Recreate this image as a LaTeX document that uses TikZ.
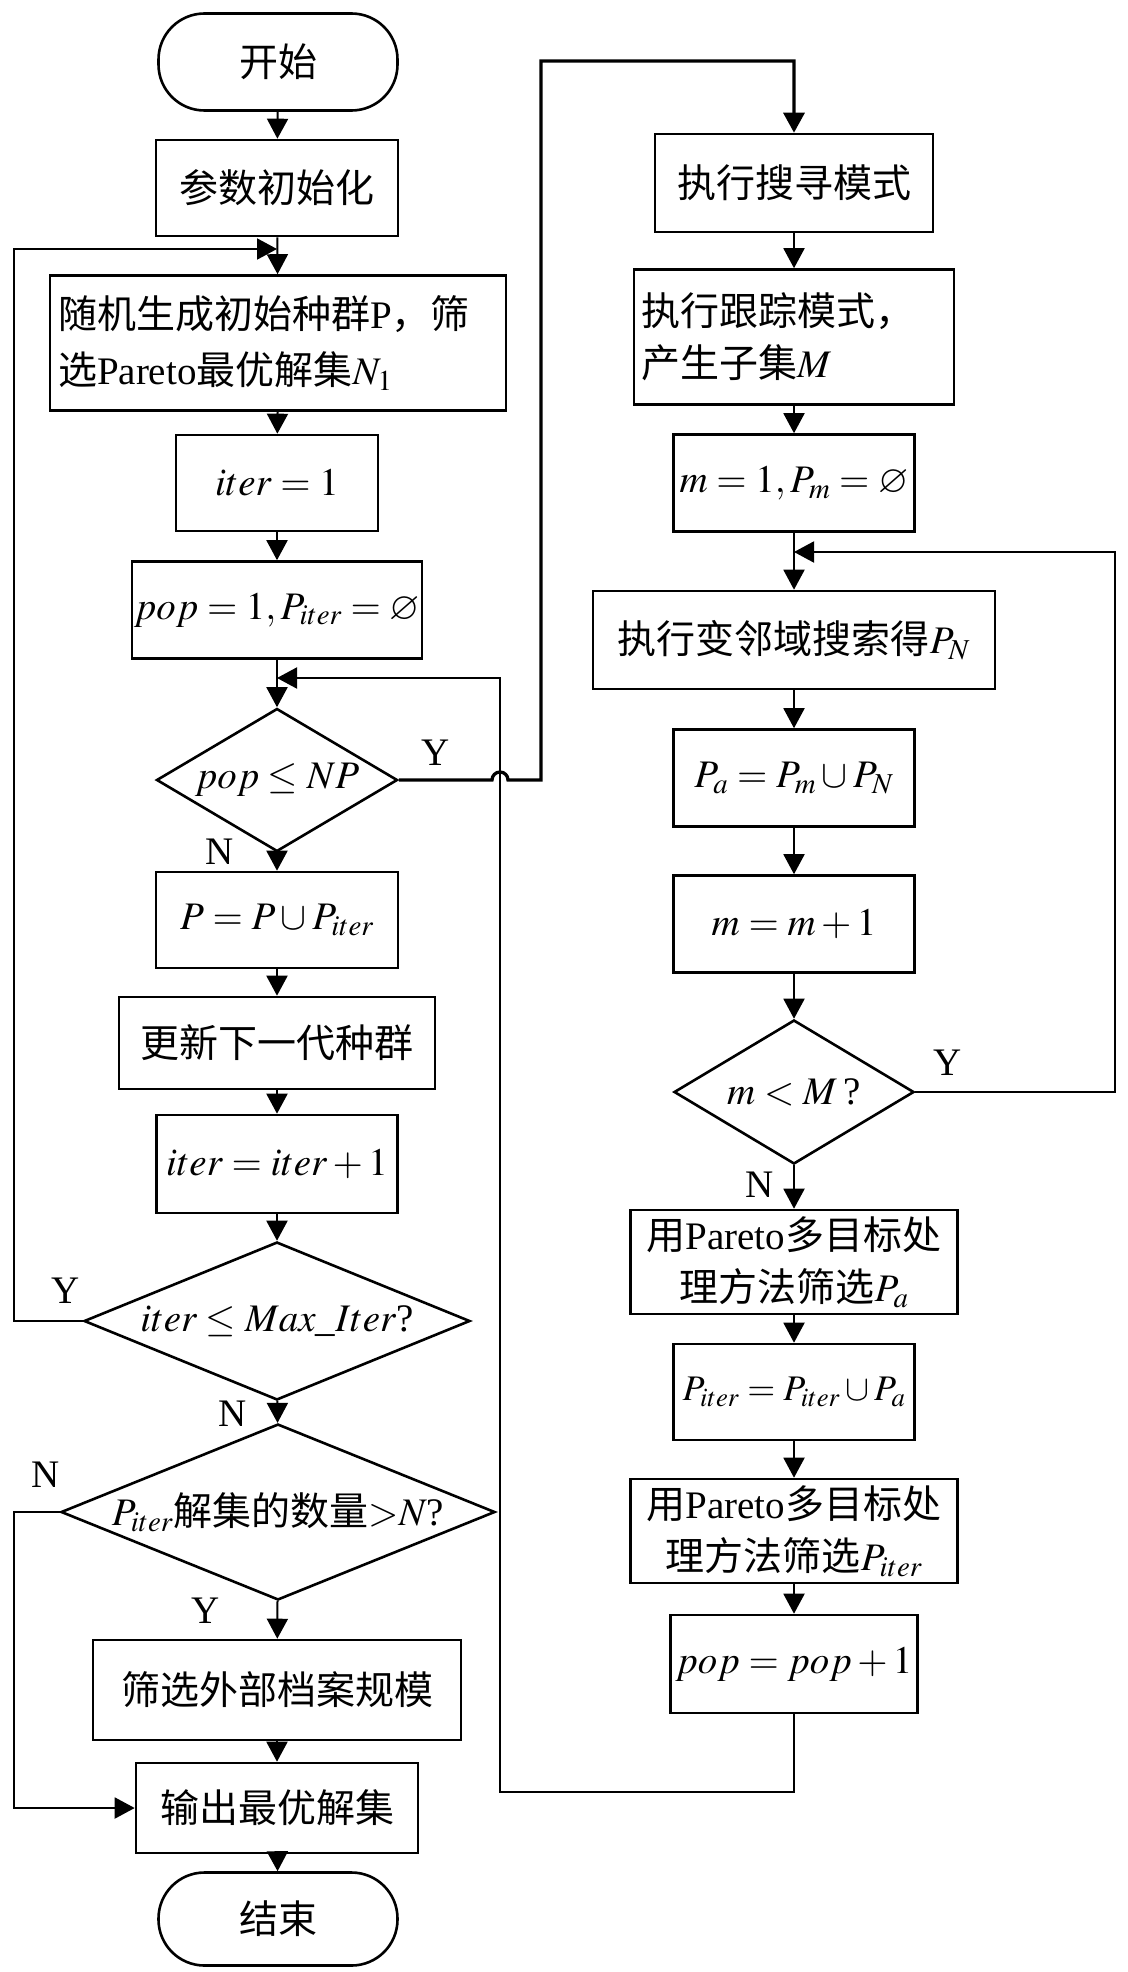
\documentclass[tikz,border=0pt]{standalone}
\usepackage{mathptmx}
\usepackage{amssymb}
\usepackage{fontspec}
\setmainfont{Liberation Serif}
\newfontfamily\zh{Noto Sans CJK SC}
\usetikzlibrary{shapes.geometric,arrows.meta}

\begin{document}
\begin{tikzpicture}[x=1pt,y=-1pt,
    font=\fontsize{39}{52}\selectfont,
    box/.style={draw,rectangle,line width=2.6pt,inner sep=5pt},
    term/.style={draw,rectangle,rounded corners=46pt,line width=2.6pt},
    decide/.style={draw,diamond,line width=2.6pt,inner sep=0pt},
    arr/.style={line width=2pt,-{Triangle[length=20pt,width=21pt]}},
    lbl/.style={inner sep=0pt}]
    \useasboundingbox (0,0) rectangle (1127,1972);
    % Left column
    \node[term,minimum width=239pt,minimum height=97pt] (start) at (278,62) {\zh 开始};
    \node[box,minimum width=242pt,minimum height=96pt] (init) at (277,188) {\zh 参数初始化};
    \node[box,minimum width=456pt,minimum height=135pt,text width=440pt,align=left] (rand) at (278,343)
        {{\zh 随机生成初始种群}P{\zh ，筛}\\[4pt]{\zh 选}Pareto{\zh 最优解集}$N_1$};
    \node[box,minimum width=202pt,minimum height=96pt] (it1) at (277,483) {$iter=1$};
    \node[box,minimum width=278pt,minimum height=97pt,inner xsep=2pt] (pop1) at (277,610) {$pop=1,P_{iter}=\varnothing$};
    \node[decide,aspect=1.69,minimum width=241pt,minimum height=143pt] (d1) at (277,780) {$pop\le NP$};
    \node[box,minimum width=242pt,minimum height=96pt] (uni) at (277,920) {$P=P\cup P_{iter}$};
    \node[box,minimum width=316pt,minimum height=92pt] (upd) at (277,1043) {\zh 更新下一代种群};
    \node[box,minimum width=241pt,minimum height=98pt] (it2) at (277,1164) {$iter=iter+1$};
    \node[decide,aspect=2.44,minimum width=386pt,minimum height=158pt] (d2) at (277,1321) {$iter\le Max\_Iter$?};
    \node[decide,aspect=2.47,minimum width=434pt,minimum height=176pt] (d3) at (278,1512) {$P_{iter}${\zh 解集的数量}${>}N$?};
    \node[box,minimum width=368pt,minimum height=100pt] (arch) at (277,1690) {\zh 筛选外部档案规模};
    \node[box,minimum width=282pt,minimum height=90pt] (out) at (277,1808) {\zh 输出最优解集};
    \node[term,minimum width=239pt,minimum height=93pt] (stop) at (278,1919) {\zh 结束};
    % Right column
    \node[box,minimum width=278pt,minimum height=98pt] (srch) at (794,183) {\zh 执行搜寻模式};
    \node[box,minimum width=320pt,minimum height=135pt,text width=306pt,align=left] (trk) at (794,337)
        {{\zh 执行跟踪模式，}\\{\zh 产生子集}$M$};
    \node[box,minimum width=241pt,minimum height=97pt] (m1) at (794,483) {$m=1,P_m=\varnothing$};
    \node[box,minimum width=402pt,minimum height=98pt] (vns) at (794,640) {{\zh 执行变邻域搜索得}$P_N$};
    \node[box,minimum width=241pt,minimum height=97pt] (pa) at (794,778) {$P_a=P_m\cup P_N$};
    \node[box,minimum width=241pt,minimum height=97pt] (mm) at (794,924) {$m=m+1$};
    \node[decide,aspect=1.67,minimum width=240pt,minimum height=144pt] (d4) at (794,1092) {$m<M$\,?};
    \node[box,minimum width=327pt,minimum height=104pt,align=center] (fa) at (794,1262)
        {{\zh 用}Pareto{\zh 多目标处}\\{\zh 理方法筛选}$P_a$};
    \node[box,minimum width=241pt,minimum height=96pt,inner xsep=2pt,font=\fontsize{36}{48}\selectfont] (pit) at (794,1392)
        {$P_{iter}=P_{iter}\cup P_a$};
    \node[box,minimum width=327pt,minimum height=104pt,align=center] (fit) at (794,1531)
        {{\zh 用}Pareto{\zh 多目标处}\\{\zh 理方法筛选}$P_{iter}$};
    \node[box,minimum width=241pt,minimum height=98pt] (pp) at (794,1664) {$pop=pop+1$};
    % Junctions and corners
    \coordinate (j1) at (277,249);
    \coordinate (j2) at (277,678);
    \coordinate (j4) at (794,552);
    \coordinate (c1) at (14,249);
    \coordinate (c2) at (14,1808);
    \coordinate (c3) at (541,61);
    \coordinate (c4) at (500,1792);
    \coordinate (c6) at (1115,552);
    \coordinate (h1) at (492,780);
    % Yes / No labels
    \node[lbl] at (436,753) {Y};
    \node[lbl] at (220,852) {N};
    \node[lbl] at (66,1291) {Y};
    \node[lbl] at (233,1414) {N};
    \node[lbl] at (46,1475) {N};
    \node[lbl] at (206,1611) {Y};
    \node[lbl] at (948,1063) {Y};
    \node[lbl] at (760,1185) {N};
    % Main flow
    \draw[arr] (start) -- (init);
    \draw[arr] (init) -- (rand);
    \draw[arr] (rand) -- (it1);
    \draw[arr] (it1) -- (pop1);
    \draw[arr] (pop1) -- (d1);
    \draw[arr] (d1) -- (uni);
    \draw[arr] (uni) -- (upd);
    \draw[arr] (upd) -- (it2);
    \draw[arr] (it2) -- (d2);
    \draw[arr] (d2) -- (d3);
    \draw[arr] (d3) -- (arch);
    \draw[arr] (arch) -- (out);
    \draw[arr] (out) -- (stop);
    \draw[arr] (srch) -- (trk);
    \draw[arr] (trk) -- (m1);
    \draw[arr] (m1) -- (vns);
    \draw[arr] (vns) -- (pa);
    \draw[arr] (pa) -- (mm);
    \draw[arr] (mm) -- (d4);
    \draw[arr] (d4) -- (fa);
    \draw[arr] (fa) -- (pit);
    \draw[arr] (pit) -- (fit);
    \draw[arr] (fit) -- (pp);
    % Loops
    \draw[arr] (d2.west) -| (c1) -- (j1);
    \draw[arr] (d3.west) -| (c2) -- (out.west);
    \draw[arr] (pp.south) |- (c4) |- (j2);
    \draw[arr] (d4.east) -| (c6) -- (j4);
    \draw[arr,line width=3.3pt] (d1.east) -- (h1) arc[start angle=180,end angle=0,radius=8pt]
        -- (541,780) -- (c3) -| (srch.north);
\end{tikzpicture}
\end{document}
